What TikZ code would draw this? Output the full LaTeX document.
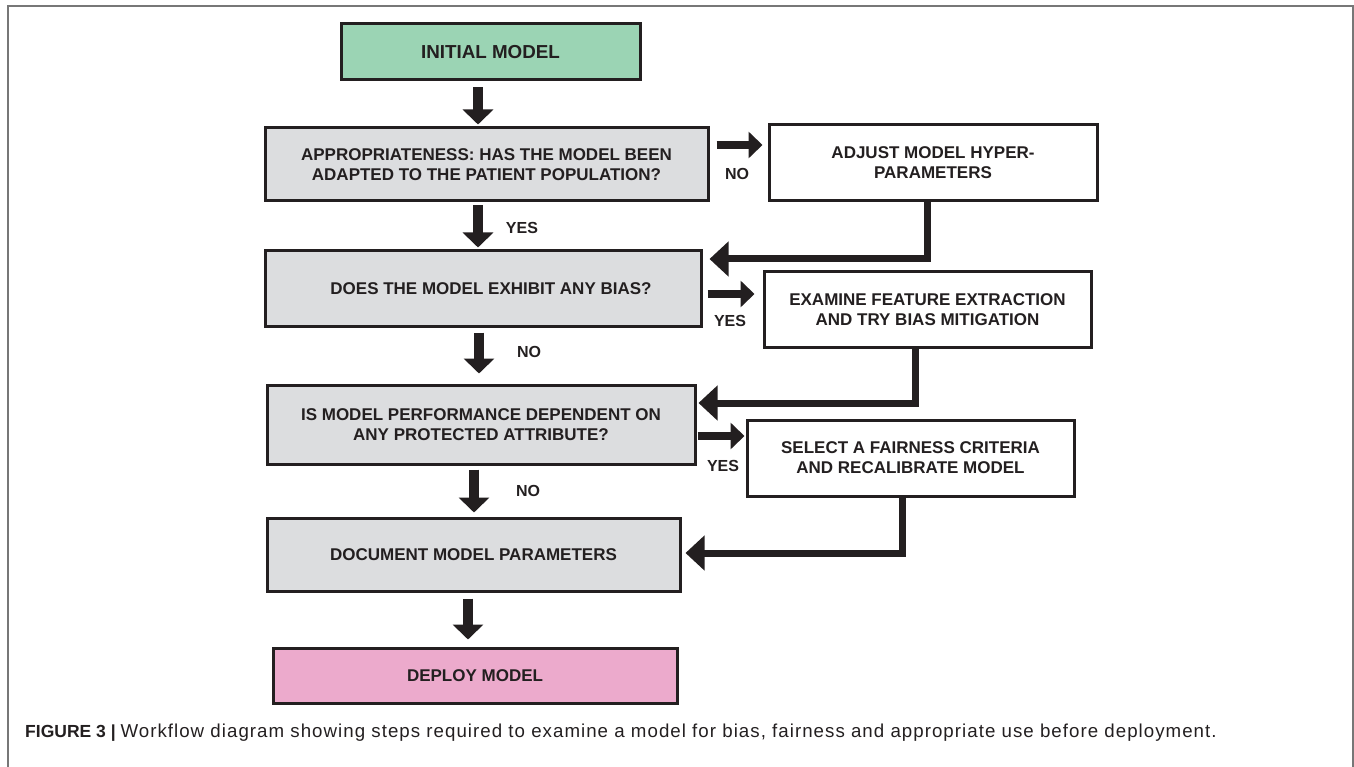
\documentclass[tikz,border=0pt]{standalone}
\usepackage{fontspec}
\setmainfont{Liberation Sans}
\usetikzlibrary{arrows.meta}
\definecolor{initgreen}{HTML}{9BD4B4}
\definecolor{stepgray}{HTML}{DCDDDF}
\definecolor{deploypink}{HTML}{ECAACC}
\definecolor{framegray}{HTML}{777777}
\definecolor{inkblack}{HTML}{231F20}
\begin{document}
\begin{tikzpicture}[x=1pt,y=-1pt]
        \tikzstyle{every node}+=[inner sep=0pt]
        \tikzstyle{stepbox}=[draw=inkblack, line width=3pt, align=center, text=inkblack, font=\fontsize{17}{20}\selectfont\bfseries]
        \tikzstyle{lbl}=[text=inkblack, font=\fontsize{16}{18}\selectfont\bfseries]
        \tikzstyle{down}=[draw=inkblack, line width=10pt, -{Triangle[length=15pt,width=30pt]}]
        \tikzstyle{fwd}=[draw=inkblack, line width=8pt, -{Triangle[length=14pt,width=26pt]}]
        \tikzstyle{back}=[draw=inkblack, line width=7pt, line join=miter, -{Triangle[length=19pt,width=34pt]}]
        \useasboundingbox (0,0) rectangle (1354,767);
        \draw [framegray, line width=1.5pt] (8,767) -- (8,6) -- (1353,6) -- (1353,767);
        % main column
        \node [stepbox, fill=initgreen, minimum width=299pt, minimum height=56pt, font=\fontsize{18.8}{20}\selectfont\bfseries] (init) at (490.5,52) {INITIAL MODEL};
        \node [stepbox, fill=stepgray, minimum width=443pt, minimum height=73pt] (appr) at (486.5,164.5) {APPROPRIATENESS: HAS THE MODEL BEEN\\ADAPTED TO THE PATIENT POPULATION?};
        \node [stepbox, fill=stepgray, minimum width=436pt, minimum height=75pt] (bias) at (483,288.5) {\hspace*{16pt}DOES THE MODEL EXHIBIT ANY BIAS?};
        \node [stepbox, fill=stepgray, minimum width=428pt, minimum height=79pt] (perf) at (481,424.5) {IS MODEL PERFORMANCE DEPENDENT ON\\ANY PROTECTED ATTRIBUTE?};
        \node [stepbox, fill=stepgray, minimum width=413pt, minimum height=73pt] (docu) at (473.5,554.5) {DOCUMENT MODEL PARAMETERS};
        \node [stepbox, fill=deploypink, minimum width=404pt, minimum height=55pt] (depl) at (475,675.5) {DEPLOY MODEL};
        % side column
        \node [stepbox, fill=white, minimum width=328pt, minimum height=76pt] (adjust) at (933,163) {ADJUST MODEL HYPER-\\PARAMETERS};
        \node [stepbox, fill=white, minimum width=327pt, minimum height=75pt] (examine) at (927.5,309.5) {EXAMINE FEATURE EXTRACTION\\AND TRY BIAS MITIGATION};
        \node [stepbox, fill=white, minimum width=327pt, minimum height=76pt] (select) at (910.5,458) {SELECT A FAIRNESS CRITERIA\\AND RECALIBRATE MODEL};
        % down arrows
        \coordinate (d1) at ([shift={(-12.5pt,-6pt)}]init.south);
        \coordinate (d2) at ([shift={(-8.5pt,-3pt)}]appr.south);
        \coordinate (d3) at ([shift={(-4pt,-5pt)}]bias.south);
        \coordinate (d4) at ([shift={(-7pt,-4pt)}]perf.south);
        \coordinate (d5) at ([shift={(-5.5pt,-6pt)}]docu.south);
        \draw [down, shorten >=2pt] (d1) -- (d1 |- appr.north);
        \draw [down, shorten >=2pt] (d2) -- (d2 |- bias.north);
        \draw [down, shorten >=10pt] (d3) -- (d3 |- perf.north);
        \draw [down, shorten >=4pt] (d4) -- (d4 |- docu.north);
        \draw [down, shorten >=7pt] (d5) -- (d5 |- depl.north);
        % side arrows
        \coordinate (f1) at ([shift={(7pt,19.5pt)}]appr.east);
        \coordinate (f2) at ([shift={(5pt,-5.5pt)}]bias.east);
        \coordinate (f3) at ([shift={(1pt,-11.5pt)}]perf.east);
        \draw [fwd, shorten >=5pt] (f1) -- (f1 -| adjust.west);
        \draw [fwd, shorten >=8pt] (f2) -- (f2 -| examine.west);
        \draw [fwd, shorten >=1pt] (f3) -- (f3 -| select.west);
        % return arrows
        \coordinate (r1) at ([xshift=-6pt]adjust.south);
        \coordinate (r2) at ([xshift=-12.5pt]examine.south);
        \coordinate (r3) at ([xshift=-8.5pt]select.south);
        \coordinate (t1) at ([shift={(7pt,29.5pt)}]bias.east);
        \coordinate (t2) at ([shift={(2pt,21.5pt)}]perf.east);
        \coordinate (t3) at ([shift={(4pt,1.5pt)}]docu.east);
        \draw [back] (r1) |- (t1);
        \draw [back] (r2) |- (t2);
        \draw [back] (r3) |- (t3);
        % labels
        \node [lbl] (no1) at (737,174) {NO};
        \node [lbl] (yes1) at (522,228) {YES};
        \node [lbl] (yes2) at (730,321) {YES};
        \node [lbl] (no2) at (529,352) {NO};
        \node [lbl] (yes3) at (723,466) {YES};
        \node [lbl] (no3) at (528,491) {NO};
        % caption
        \node [anchor=base west, text=inkblack, font=\fontsize{17.5}{20}\selectfont] (caption) at (25,737) {\textbf{FIGURE 3 |} {\fontsize{18.7}{20}\selectfont\addfontfeature{LetterSpace=5.5}Workflow diagram showing steps required to examine a model for bias, fairness and appropriate use before deployment.}};
\end{tikzpicture}
\end{document}
